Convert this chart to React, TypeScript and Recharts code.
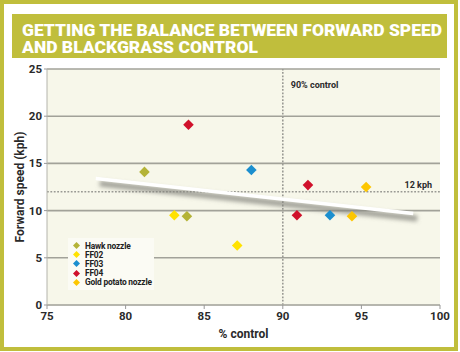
import { ScatterChart, Scatter, XAxis, YAxis, CartesianGrid, ReferenceLine, Legend, Label } from 'recharts';

const xTicks = [75, 80, 85, 90, 95, 100];
const yTicks = [0, 5, 10, 15, 20, 25];

const hawkNozzle = [{ x: 81.2, y: 14.1 }, { x: 83.9, y: 9.4 }];
const ff02 = [{ x: 83.1, y: 9.5 }, { x: 87.1, y: 6.3 }];
const ff03 = [{ x: 88.0, y: 14.3 }, { x: 93.0, y: 9.5 }];
const ff04 = [{ x: 84.0, y: 19.1 }, { x: 91.6, y: 12.7 }, { x: 90.9, y: 9.5 }];
const goldPotato = [{ x: 94.4, y: 9.4 }, { x: 95.3, y: 12.5 }];

const trend = [{ x: 78.1, y: 13.4 }, { x: 98.3, y: 9.7 }];

const controlTarget = 90;
const speedTarget = 12;

const series = [
  { name: 'Hawk nozzle', data: hawkNozzle, color: '#b4b337' },
  { name: 'FF02', data: ff02, color: '#ffe200' },
  { name: 'FF03', data: ff03, color: '#1b8fcf' },
  { name: 'FF04', data: ff04, color: '#d0112b' },
  { name: 'Gold potato nozzle', data: goldPotato, color: '#fdc600' },
];

const OLIVE = '#c0be3c';
const FONT = 'Roboto, "Liberation Sans", sans-serif';

const Diamond = (props: any) => {
  const { cx, cy, fill } = props;
  const r = 5.3;
  return <polygon points={`${cx},${cy - r} ${cx + r},${cy} ${cx},${cy + r} ${cx - r},${cy}`} fill={fill} />;
};

const LegendBox = () => (
  <div style={{ background: '#fbfbf4', width: 86, height: 52, padding: '3px 0 0 0', boxSizing: 'border-box' }}>
    {series.map((s) => (
      <div key={s.name} style={{ display: 'flex', alignItems: 'center', height: 9.2, fontFamily: FONT, fontWeight: 700, fontSize: 8.4, color: '#222', letterSpacing: -0.2 }}>
        <svg width={17} height={9} style={{ flex: 'none' }}>
          <polygon points="8.5,1 12,4.5 8.5,8 5,4.5" fill={s.color} />
        </svg>
        <span>{s.name}</span>
      </div>
    ))}
  </div>
);

export default function App() {
  return (
    <div style={{ position: 'absolute', left: 0, top: 0, width: 460, height: 352, background: '#fff', overflow: 'hidden' }}>
      <svg width={460} height={352} style={{ position: 'absolute', left: 0, top: 0 }}>
        <defs>
          <filter id="trendShadow" x="-10%" y="-200%" width="120%" height="500%">
            <feGaussianBlur stdDeviation="2" />
          </filter>
        </defs>
        <rect x={2} y={2} width={454} height={347} fill="none" stroke={OLIVE} strokeWidth={4} />
        <rect x={12} y={14} width={435} height={44} fill={OLIVE} />
        <text x={22} y={36} fill="#fff" fontFamily={FONT} fontWeight={900} fontSize={17} textLength={420} lengthAdjust="spacingAndGlyphs">
          GETTING THE BALANCE BETWEEN FORWARD SPEED
        </text>
        <text x={22} y={53.3} fill="#fff" fontFamily={FONT} fontWeight={900} fontSize={17} textLength={236} lengthAdjust="spacingAndGlyphs">
          AND BLACKGRASS CONTROL
        </text>
      </svg>
      <div style={{ position: 'absolute', left: 0, top: 0 }}>
        <ScatterChart width={460} height={352} margin={{ top: 69, right: 20, bottom: 14, left: 0 }}>
          <CartesianGrid vertical={false} fill="#f7f7ea" stroke="#a2a299" strokeWidth={1.6} />
          <XAxis
            type="number"
            dataKey="x"
            domain={[75, 100]}
            ticks={xTicks}
            height={33}
            tickSize={4}
            tickMargin={3}
            axisLine={{ stroke: '#b4b4ac' }}
            tickLine={{ stroke: '#999' }}
            tick={{ fill: '#2a2a2a', fontSize: 11.5, fontWeight: 700, fontFamily: FONT }}
          >
            <Label
              content={(p: any) => {
                const { x, y, width } = p.viewBox;
                return (
                  <text x={x + width / 2} y={y + 33} textAnchor="middle" fill="#2a2a2a" fontFamily={FONT} fontWeight={700} fontSize={12}>
                    % control
                  </text>
                );
              }}
            />
          </XAxis>
          <YAxis
            type="number"
            dataKey="y"
            domain={[0, 25]}
            ticks={yTicks}
            width={47}
            tickSize={3}
            tickMargin={2}
            axisLine={{ stroke: '#b4b4ac' }}
            tickLine={{ stroke: '#999' }}
            tick={{ fill: '#2a2a2a', fontSize: 11.5, fontWeight: 700, fontFamily: FONT }}
          >
            <Label
              content={(p: any) => {
                const { y, height } = p.viewBox;
                const cy = y + height / 2;
                return (
                  <text x={20} y={cy} transform={`rotate(-90 20 ${cy})`} textAnchor="middle" dominantBaseline="central" fill="#2a2a2a" fontFamily={FONT} fontWeight={700} fontSize={12}>
                    Forward speed (kph)
                  </text>
                );
              }}
            />
          </YAxis>
          <ReferenceLine
            x={controlTarget}
            stroke="#9a9a94"
            strokeWidth={1.6}
            strokeDasharray="1.8 1.6"
            label={(p: any) => {
              const { x, y } = p.viewBox;
              return (
                <text x={x + 8} y={y + 19} fill="#2a2a2a" fontFamily={FONT} fontWeight={700} fontSize={9}>
                  90% control
                </text>
              );
            }}
          />
          <ReferenceLine
            y={speedTarget}
            stroke="#9a9a94"
            strokeWidth={1.6}
            strokeDasharray="1.8 1.6"
            label={(p: any) => {
              const { x, y, width } = p.viewBox;
              return (
                <text x={x + width - 8} y={y - 4} textAnchor="end" fill="#2a2a2a" fontFamily={FONT} fontWeight={700} fontSize={9}>
                  12 kph
                </text>
              );
            }}
          />
          <Scatter
            data={trend}
            isAnimationActive={false}
            legendType="none"
            shape={() => <g />}
            line={{ stroke: '#85857f', strokeWidth: 6, strokeOpacity: 0.75, filter: 'url(#trendShadow)', transform: 'translate(4,5)' }}
          />
          <Scatter
            data={trend}
            isAnimationActive={false}
            legendType="none"
            shape={() => <g />}
            line={{ stroke: '#ffffff', strokeWidth: 3.5 }}
          />
          {series.map((s) => (
            <Scatter key={s.name} name={s.name} data={s.data} fill={s.color} shape={Diamond} isAnimationActive={false} />
          ))}
          <Legend
            layout="vertical"
            align="center"
            verticalAlign="middle"
            wrapperStyle={{ left: 68, top: 238, width: 86, height: 52 }}
            content={() => <LegendBox />}
          />
        </ScatterChart>
      </div>
    </div>
  );
}
